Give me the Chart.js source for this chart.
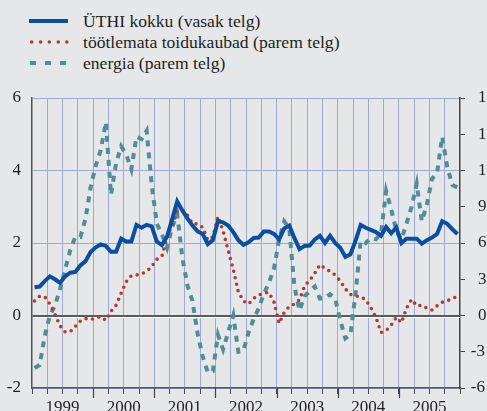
<!DOCTYPE html>
<html><head><meta charset="utf-8">
<script src="https://cdn.jsdelivr.net/npm/chart.js@4"></script>
<style>
html,body{margin:0;padding:0;background:#e6e7e9;overflow:hidden;width:487px;height:411px;}
#wrap{position:absolute;left:0;top:0;width:500px;height:411px;}
#legend{position:absolute;left:0;top:0;width:487px;height:80px;font-family:"Liberation Serif","DejaVu Serif",serif;font-size:17.6px;color:#231f20;}
.item{position:absolute;left:0;height:20px;line-height:20px;white-space:nowrap;}
.item svg{position:absolute;left:26px;top:0;}
.item span{position:absolute;left:83px;top:0;}
</style></head>
<body>
<div id="legend">
  <div class="item" style="top:11px"><svg width="46" height="20"><line x1="3" y1="10" x2="42" y2="10" stroke="#0a4f9f" stroke-width="4"/></svg><span>ÜTHI kokku (vasak telg)</span></div>
  <div class="item" style="top:32px"><svg width="46" height="20"><g fill="#b23a30"><circle cx="5.7" cy="10" r="1.8"/><circle cx="14.6" cy="10" r="1.8"/><circle cx="23.4" cy="10" r="1.8"/><circle cx="32.3" cy="10" r="1.8"/><circle cx="40.8" cy="10" r="1.8"/></g></svg><span>töötlemata toidukaubad (parem telg)</span></div>
  <div class="item" style="top:53px"><svg width="46" height="20"><line x1="4" y1="10" x2="42" y2="10" stroke="#4f8d98" stroke-width="4" stroke-dasharray="6,9"/></svg><span>energia (parem telg)</span></div>
</div>
<div id="wrap"><canvas id="c" width="500" height="411"></canvas></div>
<script>
const years = ['1999','2000','2001','2002','2003','2004','2005'];
const uthi = [
 0.78,0.80,0.95,1.08,1.00,0.90,1.08,1.18,1.20,1.38,1.50,1.75,
 1.88,1.96,1.92,1.76,1.76,2.12,2.04,2.04,2.50,2.42,2.50,2.46,
 2.04,1.94,2.18,2.65,3.15,2.90,2.68,2.48,2.32,2.25,1.97,2.08,
 2.60,2.57,2.48,2.30,2.08,1.95,2.02,2.14,2.15,2.32,2.32,2.25,
 2.10,2.40,2.48,2.14,1.83,1.92,1.93,2.10,2.20,2.00,2.20,2.00,
 1.87,1.62,1.69,2.06,2.50,2.42,2.36,2.30,2.20,2.44,2.27,2.43,
 2.00,2.12,2.12,2.12,1.98,2.08,2.15,2.25,2.60,2.53,2.38,2.25];
const toidukaubad = [
 1.2,1.6,1.55,0.95,0.1,-0.85,-1.35,-1.35,-0.9,-0.45,-0.25,-0.35,
 -0.2,-0.1,-0.4,0.35,0.85,1.85,2.8,3.3,3.35,3.45,3.65,4.05,
 4.65,4.9,6.5,7.5,8.6,8.75,8.3,7.6,7.58,7.3,6.25,6.5,
 8.2,7.0,5.4,3.8,1.95,1.2,0.95,1.42,1.7,1.85,1.9,1.1,
 -0.65,0.25,0.75,0.95,1.3,2.45,2.9,3.5,4.2,3.9,3.65,3.35,
 2.85,2.2,1.75,1.62,1.55,1.3,0.65,-0.15,-1.4,-1.25,-0.8,-0.15,
 -0.6,0.6,1.33,0.8,0.85,0.6,0.45,0.8,1.1,1.22,1.4,1.58];
const energia = [
 -4.35,-4.1,-1.7,0.0,0.8,2.2,3.8,5.4,6.5,6.5,8.0,10.6,
 12.4,13.7,16.0,10.0,12.6,14.0,13.3,12.1,14.8,14.6,15.3,10.8,
 7.6,6.7,5.6,7.3,8.4,4.8,2.5,1.2,-1.5,-3.4,-4.7,-4.6,
 -1.6,-2.8,-1.4,0.0,-3.0,-2.9,-1.4,-0.3,0.6,1.8,2.7,3.9,
 6.3,7.8,7.2,2.4,0.4,1.6,2.0,2.4,1.4,1.45,1.75,1.4,
 -0.4,-1.9,-1.6,1.8,6.2,6.0,6.4,6.3,6.8,10.3,8.8,7.0,
 6.3,7.6,9.0,10.9,7.8,9.2,11.3,11.8,14.8,12.3,10.8,10.6];
const leftTicks = [-2, 6, 2];   // min, max, step
const rightTicks = [-6, 18, 3]; // min, max, step

const monthPos = uthi.map((_, i) => i + 0.5);
const pts = arr => arr.map((v, i) => ({x: monthPos[i], y: v}));

const FONT = {family: '"Liberation Serif","DejaVu Serif",serif', size: 17};
const TXT = '#231f20';
const GRID = '#9ea9d9';
const noPad = s => { s.paddingTop = 0; s.paddingBottom = 0; s.paddingLeft = 0; s.paddingRight = 0; };

const extras = {
  id: 'extras',
  beforeDraw(chart) {
    // right axis: digits aligned, minus sign hanging to the left
    const s = chart.scales.y2;
    const items = s.getLabelItems(chart.chartArea);
    const ctx = chart.ctx;
    ctx.save();
    ctx.font = '17px "Liberation Serif","DejaVu Serif",serif';
    const mw = ctx.measureText('-').width + 1.5;
    ctx.restore();
    items.forEach(it => {
      if (!it._shifted && String(it.label).startsWith('-')) {
        it.options.translation[0] -= mw; it._shifted = true;
      }
    });
  },
  beforeDatasetsDraw(chart) {
    const ctx = chart.ctx, a = chart.chartArea, y = chart.scales.y.getPixelForValue(0);
    ctx.save();
    ctx.strokeStyle = '#ffffff'; ctx.lineWidth = 1.2;
    ctx.beginPath(); ctx.moveTo(a.left + 1, y + 2); ctx.lineTo(a.right, y + 2); ctx.stroke();
    ctx.restore();
  },
  afterDraw(chart) {
    const ctx = chart.ctx, a = chart.chartArea, xs = chart.scales.x;
    ctx.save();
    ctx.strokeStyle = '#444'; ctx.lineWidth = 1.2;
    for (let m = 12; m < 84; m += 12) {
      const px = Math.round(xs.getPixelForValue(m)) + 0.5;
      ctx.beginPath(); ctx.moveTo(px, a.bottom); ctx.lineTo(px, a.bottom + 10); ctx.stroke();
    }
    ctx.restore();
  }
};

new Chart(document.getElementById('c'), {
  type: 'line',
  data: {
    datasets: [
      {label: 'ÜTHI kokku (vasak telg)', data: pts(uthi), yAxisID: 'y',
       borderColor: '#0a4f9f', borderWidth: 4, pointRadius: 0, tension: 0, borderJoinStyle: 'miter'},
      {label: 'töötlemata toidukaubad (parem telg)', data: pts(toidukaubad), yAxisID: 'y2',
       borderColor: '#b23a30', borderWidth: 3.6, borderDash: [0, 6.6], borderCapStyle: 'round', pointRadius: 0, tension: 0},
      {label: 'energia (parem telg)', data: pts(energia), yAxisID: 'y2',
       borderColor: '#4f8d98', borderWidth: 4, borderDash: [6, 6], borderCapStyle: 'butt', borderJoinStyle: 'miter', pointRadius: 0, tension: 0}
    ]
  },
  options: {
    responsive: false, animation: false, devicePixelRatio: 1,
    layout: {padding: {top: 98, left: 0, right: 0, bottom: 0}},
    plugins: {legend: {display: false}, tooltip: {enabled: false}},
    scales: {
      x: {type: 'linear', position: 'bottom', min: 0, max: 84,
          afterFit: s => { s.height = 23; noPad(s); },
          ticks: {stepSize: 3, autoSkip: false, maxRotation: 0, padding: 3, font: FONT, color: TXT,
                  callback: v => (v % 12 === 6) ? years[(v - 6) / 12] : ''},
          grid: {color: c => (c.tick && (c.tick.value === 0 || c.tick.value === 84)) ? 'rgba(0,0,0,0)' : GRID,
                 lineWidth: 1, tickColor: '#444', tickLength: 6},
          border: {color: '#555', width: 1.5}},
      y: {position: 'left', min: leftTicks[0], max: leftTicks[1],
          afterFit: s => { s.width = 32; noPad(s); },
          ticks: {stepSize: leftTicks[2], padding: 11, font: FONT, color: TXT},
          grid: {color: c => c.tick && c.tick.value === 0 ? '#5a5a5c' : GRID,
                 lineWidth: c => c.tick && c.tick.value === 0 ? 2 : 1, drawTicks: false},
          border: {color: '#555', width: 1.5}},
      y2: {position: 'right', min: rightTicks[0], max: rightTicks[1],
           afterFit: s => { s.width = 40; noPad(s); },
           ticks: {stepSize: rightTicks[2], padding: 13, font: FONT, color: TXT},
           grid: {drawOnChartArea: false, drawTicks: true, tickLength: 5, tickColor: '#444'},
           border: {color: '#444', width: 1.5}}
    }
  },
  plugins: [extras]
});
</script>
</body></html>
